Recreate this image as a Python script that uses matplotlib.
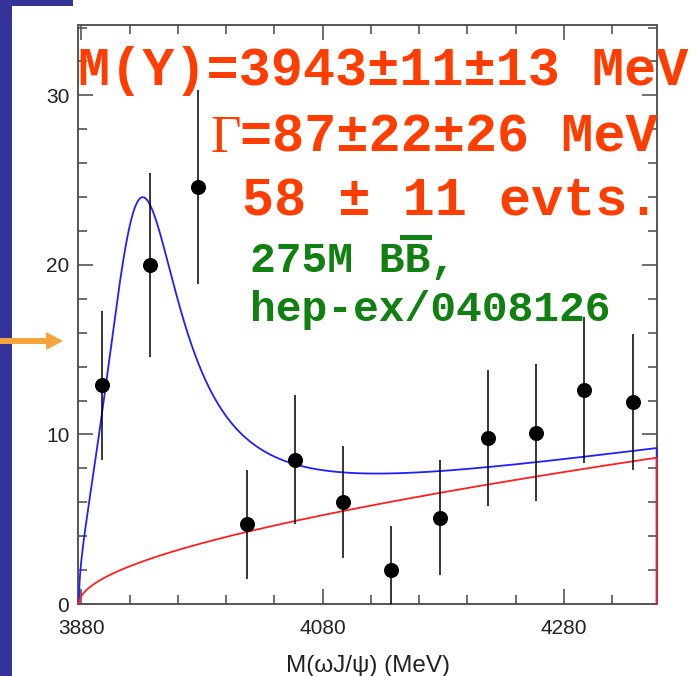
import numpy as np
import matplotlib
matplotlib.use("Agg")
import matplotlib.pyplot as plt
from matplotlib.ticker import FixedLocator, MultipleLocator
from matplotlib.patches import Rectangle, FancyArrow
from matplotlib.transforms import IdentityTransform

# Belle Y(3940) -> omega J/psi candidates per 40 MeV bin
mass_centers = [3897, 3937, 3977, 4017, 4057, 4097, 4137, 4177, 4217, 4257, 4297, 4337]
events = [12.9, 20.0, 24.6, 4.7, 8.5, 6.0, 2.0, 5.1, 9.8, 10.1, 12.6, 11.9]
event_errors = [4.4, 5.45, 5.7, 3.2, 3.8, 3.3, 2.6, 3.4, 4.0, 4.05, 4.3, 4.0]

x_major_ticks = [3880, 4080, 4280]
y_major_ticks = [0, 10, 20, 30]

# fit curve: threshold background plus phase-space weighted resonance
threshold = 3878.0
bg_sqrt_coef = 0.321
bg_lin_coef = 0.00335
sig_amp = 4960.0
sig_peak = 3922.0
sig_halfwidth = 40.0

W, H = 696, 676
fig = plt.figure(figsize=(W / 100, H / 100), dpi=100)
fig.patch.set_facecolor("white")

# slide decorations
fig.add_artist(Rectangle((0, 0), 12, H, transform=IdentityTransform(),
                         facecolor="#333399", edgecolor="none"))
fig.add_artist(Rectangle((0, H - 6), 73, 6, transform=IdentityTransform(),
                         facecolor="#333399", edgecolor="none"))
fig.add_artist(FancyArrow(0, H - 341, 46, 0, width=6, head_width=18, head_length=17,
                          length_includes_head=False, transform=IdentityTransform(),
                          facecolor="#f5a33a", edgecolor="none"))

left, right, top, bottom = 78.3, 656.7, 25, 604
ax = fig.add_axes([left / W, 1 - bottom / H, (right - left) / W, (bottom - top) / H])
xmin, xmax = 3877.5, 4357.0
ax.set_xlim(xmin, xmax)
ax.set_ylim(0, 34.15)

m = np.linspace(threshold, xmax, 1000)
d = m - threshold
background = bg_sqrt_coef * np.sqrt(d) + bg_lin_coef * d
total = background + sig_amp * np.sqrt(d) / ((m - sig_peak) ** 2 + sig_halfwidth ** 2)

ax.plot(np.r_[m, xmax], np.r_[total, 0], color="#1f1fff", lw=1.3, zorder=3, clip_on=False)
ax.plot(np.r_[m, xmax], np.r_[background, 0], color="#ff1f1f", lw=1.3, zorder=3.2, clip_on=False)

ax.errorbar(mass_centers, events, yerr=event_errors, fmt="o", color="black",
            ms=9.8, elinewidth=1.1, capsize=0, zorder=4)

ax.xaxis.set_major_locator(FixedLocator(x_major_ticks))
ax.xaxis.set_minor_locator(MultipleLocator(40))
ax.yaxis.set_major_locator(FixedLocator(y_major_ticks))
ax.yaxis.set_minor_locator(MultipleLocator(2))

spine_color = "#555555"
for s in ax.spines.values():
    s.set_color(spine_color)
    s.set_linewidth(1.4)
ax.tick_params(which="both", direction="in", top=True, right=True,
               color=spine_color, width=1.2, labelsize=15)
ax.tick_params(which="major", length=11)
ax.tick_params(which="minor", length=6.3)
ax.tick_params(axis="x", pad=11)
ax.tick_params(axis="y", pad=6.5)
for lab in ax.get_xticklabels() + ax.get_yticklabels():
    lab.set_family("Liberation Sans")
    lab.set_color("#222222")

ax.set_xlabel("M(\u03c9J/\u03c8) (MeV)", fontsize=17.5, family="Liberation Sans",
              color="#222222", labelpad=12)

red = "#ff3d00"
green = "#108010"
mono = "Liberation Mono"

def px(x, y):
    return x / W, 1 - y / H

fig.text(*px(78, 85), "M(Y)=3943\u00b111\u00b113 MeV", family=mono, weight="bold",
         size=38.5, color=red, va="baseline", ha="left")
fig.text(*px(210, 151.7), "\u0393", family="Liberation Serif", size=38,
         color=red, va="baseline", ha="left")
fig.text(*px(240, 151.7), "=87\u00b122\u00b126 MeV", family=mono, weight="bold",
         size=38.5, color=red, va="baseline", ha="left")
fig.text(*px(242, 215), "58 \u00b1 11 evts.", family=mono, weight="bold",
         size=38.5, color=red, va="baseline", ha="left")

fig.text(*px(250, 272), "275M BB,", family=mono, weight="bold",
         size=31, color=green, va="baseline", ha="left")
fig.add_artist(Rectangle((400, H - 240), 32, 5, transform=IdentityTransform(),
                         facecolor=green, edgecolor="none"))
fig.text(*px(250, 321), "hep-ex/0408126", family=mono, weight="bold",
         size=31, color=green, va="baseline", ha="left")

fig.savefig("out.png", dpi=100)
